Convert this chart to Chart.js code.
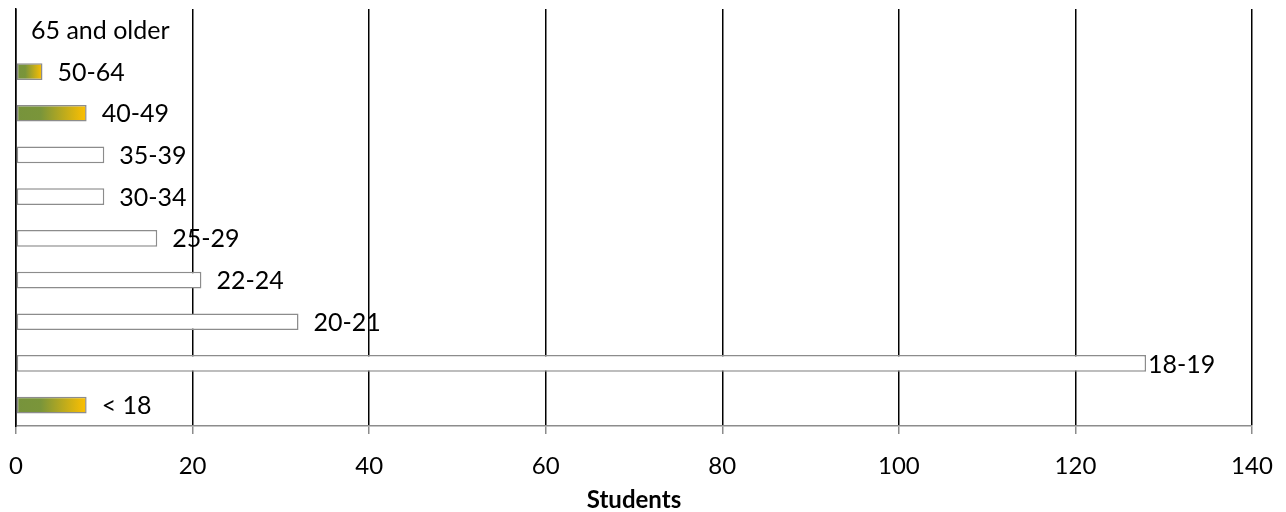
<!DOCTYPE html>
<html>
<head>
<meta charset="utf-8">
<script src="https://cdn.jsdelivr.net/npm/chart.js@4"></script>
<style>
html,body{margin:0;padding:0;background:#fff;}
#wrap{width:1286px;height:512px;}
</style>
</head>
<body>
<div id="wrap"><canvas id="c" width="1286" height="512"></canvas></div>
<script>
const categories = ["< 18","18-19","20-21","22-24","25-29","30-34","35-39","40-49","50-64","65 and older"];
const students = [8,128,32,21,16,10,10,8,3,0];
const highlighted = [true,false,false,false,false,false,false,true,true,true];
const xTicks = [0,20,40,60,80,100,120,140];

const FONT = "Lato, 'Open Sans', sans-serif";

function barFill(ctx){
  const i = ctx.dataIndex;
  if (!highlighted[i]) return '#ffffff';
  const chart = ctx.chart;
  const xs = chart.scales.x;
  if (!xs) return '#77933C';
  const x0 = xs.getPixelForValue(0);
  const x1 = xs.getPixelForValue(students[i]);
  if (!isFinite(x0) || !isFinite(x1) || x1 <= x0) return '#77933C';
  const g = chart.ctx.createLinearGradient(x0, 0, x1, 0);
  g.addColorStop(0, '#77933C');
  g.addColorStop(0.35, '#7A953A');
  g.addColorStop(1, '#FFC000');
  return g;
}

const labelPlugin = {
  id: 'barLabels',
  afterDatasetsDraw(chart){
    const meta = chart.getDatasetMeta(0);
    const c = chart.ctx;
    c.save();
    c.font = "25px " + FONT;
    c.fillStyle = '#000';
    c.textBaseline = 'middle';
    c.textAlign = 'left';
    meta.data.forEach((el, i) => {
      const gap = students[i] > 100 ? 2 : 15;
      c.fillText(categories[i], el.x + gap, el.y + 1);
    });
    c.restore();
  }
};

new Chart(document.getElementById('c'), {
  type: 'bar',
  data: {
    labels: categories,
    datasets: [{
      data: students,
      backgroundColor: barFill,
      borderColor: '#8C8C8C',
      borderWidth: 1.5,
      borderSkipped: false,
      barPercentage: 0.4,
      categoryPercentage: 1.0
    }]
  },
  options: {
    indexAxis: 'y',
    responsive: false,
    animation: false,
    devicePixelRatio: 1,
    layout: { padding: { left: 0, right: 34, top: 9, bottom: 0 } },
    plugins: { legend: { display: false }, tooltip: { enabled: false } },
    scales: {
      x: {
        type: 'linear',
        min: 0, max: 140,
        afterBuildTicks(axis){ axis.ticks = xTicks.map(v => ({value: v})); },
        afterFit(axis){ axis.height = 86; axis.paddingLeft = 0; axis.paddingRight = 0; },
        grid: { color: '#000', lineWidth: 1.5, tickColor: '#8C8C8C', tickLength: 8, drawOnChartArea: true },
        border: { display: true, color: '#8C8C8C', width: 1.5 },
        ticks: { color: '#000', font: { family: FONT, size: 24 }, padding: 18, maxRotation: 0 },
        title: { display: true, text: 'Students', color: '#000', font: { family: FONT, size: 24, weight: 'bold', lineHeight: 1.0 }, padding: { top: 0, bottom: 0 } }
      },
      y: {
        type: 'category',
        reverse: true,
        afterFit(axis){ axis.width = 16; },
        grid: { display: false },
        border: { display: true, color: '#000', width: 1.5 },
        ticks: { display: false }
      }
    }
  },
  plugins: [labelPlugin]
});
</script>
</body>
</html>
